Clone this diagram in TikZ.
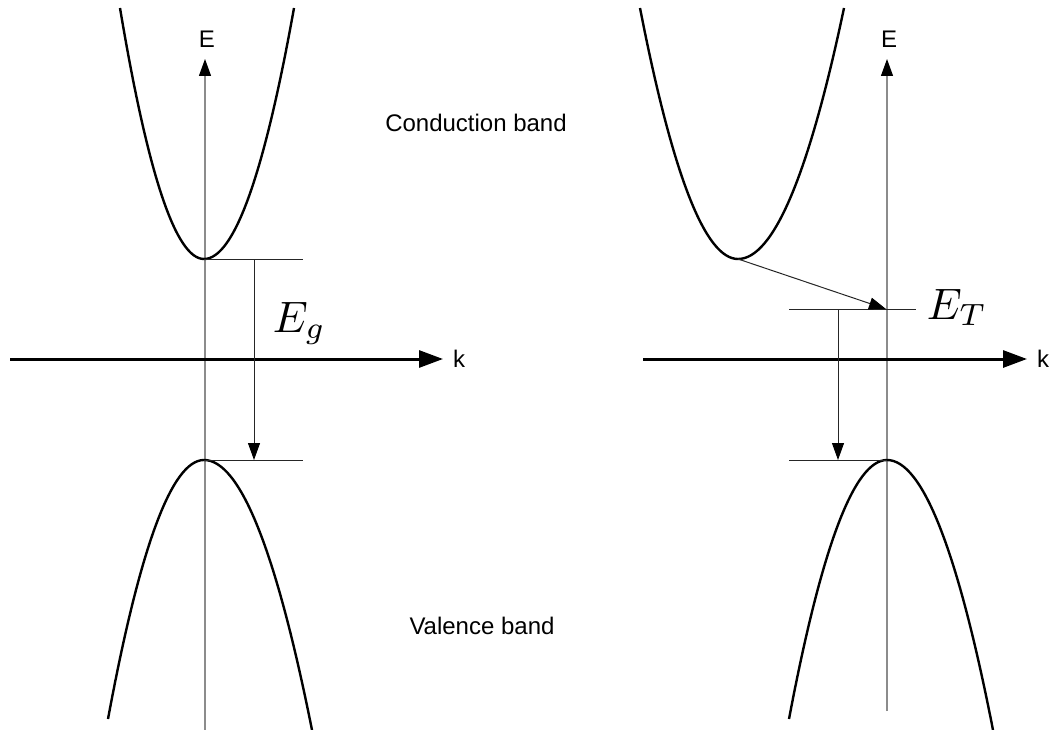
\documentclass[tikz,border=0pt]{standalone}
\usepackage{fontspec}
\setmainfont{Liberation Sans}
\usetikzlibrary{arrows.meta}
\begin{document}
\begin{tikzpicture}[x=1pt,y=-1pt,
  band/.style={line width=2.4pt,black},
  eaxis/.style={line width=1.2pt,black!45,-{Triangle[length=17pt,width=12pt,color=black]}},
  kaxis/.style={line width=3pt,black,-{Triangle[length=24pt,width=17pt]}},
  level/.style={line width=1pt,black!85},
  trans/.style={line width=1pt,black!85,-{Triangle[length=17pt,width=12pt,color=black]}},
  lbl/.style={font=\fontsize{24}{28}\selectfont,inner sep=0pt},
  big/.style={scale=4.4,inner sep=0pt,anchor=base west}]
\useasboundingbox (0,0) rectangle (1052,730);
% ---------- left panel ----------
\coordinate (Lb) at (205,730);
\coordinate (Lt) at (205,59);
\coordinate (Lk0) at (10,359);
\coordinate (Lk1) at (443,359);
\coordinate (Lcv) at (204,259);
\coordinate (Lvv) at (204,460);
\coordinate (Lc1) at (303,259);
\coordinate (Lv1) at (303,460);
\coordinate (La0) at (254,259);
\coordinate (La1) at (254,460);
\draw[eaxis] (Lb) -- (Lt);
\node[lbl] (LE) at (207,39) {E};
\draw[kaxis] (Lk0) -- (Lk1);
\node[lbl] (Lk) at (459,359) {k};
\draw[band] (120,8) .. controls (148,175.3) and (176,259) .. (Lcv)
  .. controls (234,259) and (264,175.3) .. (294,8);
\draw[band] (108,719) .. controls (140,546.3) and (172,460) .. (Lvv)
  .. controls (240,460) and (276,550) .. (312,730);
\draw[level] (Lcv) -- (Lc1);
\draw[level] (Lvv) -- (Lv1);
\draw[trans] (La0) -- (La1);
\node[big] (Eg) at (272,332) {$E_g$};
\node[lbl] (cb) at (476,123) {Conduction band};
\node[lbl] (vb) at (482,626) {Valence band};
% ---------- right panel ----------
\coordinate (Rb) at (887,711);
\coordinate (Rt) at (887,59);
\coordinate (Rk0) at (643,359);
\coordinate (Rk1) at (1027,359);
\coordinate (Rcv) at (738,259);
\coordinate (Rvv) at (887,460);
\coordinate (Rtp) at (886,309);
\coordinate (Rl0) at (789,309);
\coordinate (Rl1) at (916,309);
\coordinate (Rv0) at (789,460);
\coordinate (Ra0) at (838,309);
\coordinate (Ra1) at (838,460);
\draw[eaxis] (Rb) -- (Rt);
\node[lbl] (RE) at (889,39) {E};
\draw[kaxis] (Rk0) -- (Rk1);
\node[lbl] (Rk) at (1043,359) {k};
\draw[band] (640,8) .. controls (672.7,175.3) and (705.3,259) .. (Rcv)
  .. controls (773.3,259) and (808.7,175.3) .. (844,8);
\draw[band] (789,719) .. controls (821.7,546.3) and (854.3,460) .. (Rvv)
  .. controls (922.3,460) and (957.7,550) .. (993,730);
\draw[level] (Rl0) -- (Rl1);
\draw[level] (Rv0) -- (Rvv);
\draw[trans] (Rcv) -- (Rtp);
\draw[trans] (Ra0) -- (Ra1);
\node[big] (ET) at (926,319) {$E_T$};
\end{tikzpicture}
\end{document}
